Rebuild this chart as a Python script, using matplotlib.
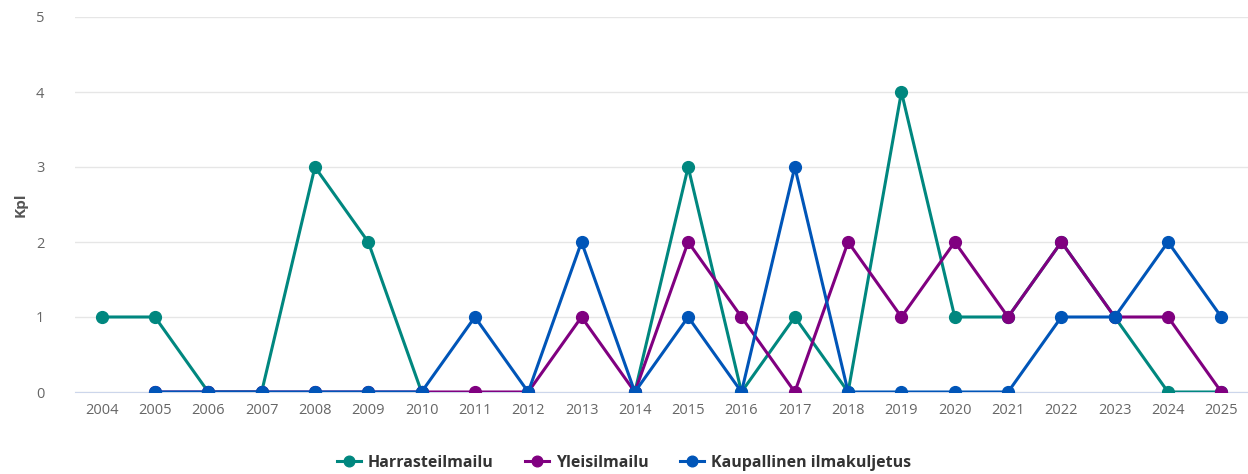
import numpy as np
import matplotlib.pyplot as plt

# data
years = [str(y) for y in range(2004, 2026)]
harrasteilmailu = [1, 1, 0, 0, 3, 2, 0, None, None, None, 0, 3, 0, 1, 0, 4, 1, 1, 2, 1, 0, 0]
yleisilmailu = [None, 0, 0, 0, 0, 0, 0, 0, 0, 1, 0, 2, 1, 0, 2, 1, 2, 1, 2, 1, 1, 0]
kaupallinen = [None, 0, 0, 0, 0, 0, 0, 1, 0, 2, 0, 1, 0, 3, 0, 0, 0, 0, 1, 1, 2, 1]

series = [
    ("Harrasteilmailu", harrasteilmailu, "#00877f"),
    ("Yleisilmailu", yleisilmailu, "#800080"),
    ("Kaupallinen ilmakuljetus", kaupallinen, "#0055b8"),
]

plt.rcParams['font.family'] = ['Open Sans', 'DejaVu Sans']

fig = plt.figure(figsize=(12.48, 4.74), dpi=100)
ax = fig.add_axes([75 / 1248, 1 - 392 / 474, 1 - 75 / 1248, (392 - 17) / 474])

x = np.arange(len(years))
for name, vals, col in series:
    y = np.array([np.nan if v is None else v for v in vals], dtype=float)
    ax.plot(x, y, color=col, lw=2.2, marker='o', ms=8.5, label=name, zorder=3)

ax.set_xlim(-0.5, len(years) - 0.5)
ax.set_ylim(0, 5)
ax.set_xticks(x)
ax.set_xticklabels(years)
ax.set_yticks(range(0, 6))
ax.grid(axis='y', color='#e6e6e6', lw=1)
ax.set_axisbelow(True)
for s in ['top', 'right', 'left']:
    ax.spines[s].set_visible(False)
ax.spines['bottom'].set_color('#ccd6eb')
ax.spines['bottom'].set_zorder(1)
ax.tick_params(axis='both', length=0, labelsize=10.5, colors='#666666', pad=8)
ax.tick_params(axis='y', pad=22)
ax.set_ylabel('Kpl', fontsize=11, color='#555555', fontweight='bold', labelpad=6)
for sp in ax.spines.values():
    sp.set_clip_on(False)

fig.legend(loc='center', bbox_to_anchor=(0.5, 1 - 463 / 474), ncol=3, frameon=False,
           prop={'size': 11.5, 'weight': 'bold'}, labelcolor='#333333',
           handlelength=1.5, columnspacing=2.0, handletextpad=0.4, markerscale=0.9)

fig.savefig('out.png', dpi=100)
